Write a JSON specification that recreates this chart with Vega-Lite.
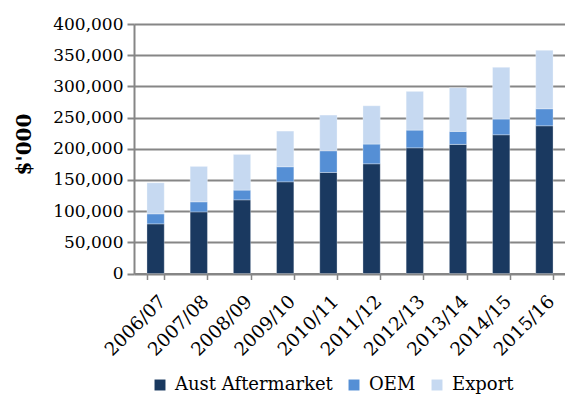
{
  "$schema": "https://vega.github.io/schema/vega-lite/v6.json",
  "autosize": {"type": "none"},
  "padding": {"left": 134, "top": 24, "right": 0, "bottom": 120},
  "width": 432,
  "height": 249.5,
  "background": "#ffffff",
  "data": {
    "values": [
      {"year": "2006/07", "segment": "Aust Aftermarket", "rank": 1, "value": 79600},
      {"year": "2006/07", "segment": "OEM", "rank": 2, "value": 16000},
      {"year": "2006/07", "segment": "Export", "rank": 3, "value": 49800},
      {"year": "2007/08", "segment": "Aust Aftermarket", "rank": 1, "value": 98800},
      {"year": "2007/08", "segment": "OEM", "rank": 2, "value": 16100},
      {"year": "2007/08", "segment": "Export", "rank": 3, "value": 56800},
      {"year": "2008/09", "segment": "Aust Aftermarket", "rank": 1, "value": 118100},
      {"year": "2008/09", "segment": "OEM", "rank": 2, "value": 15600},
      {"year": "2008/09", "segment": "Export", "rank": 3, "value": 57200},
      {"year": "2009/10", "segment": "Aust Aftermarket", "rank": 1, "value": 147000},
      {"year": "2009/10", "segment": "OEM", "rank": 2, "value": 24100},
      {"year": "2009/10", "segment": "Export", "rank": 3, "value": 57200},
      {"year": "2010/11", "segment": "Aust Aftermarket", "rank": 1, "value": 162000},
      {"year": "2010/11", "segment": "OEM", "rank": 2, "value": 34700},
      {"year": "2010/11", "segment": "Export", "rank": 3, "value": 57300},
      {"year": "2011/12", "segment": "Aust Aftermarket", "rank": 1, "value": 175900},
      {"year": "2011/12", "segment": "OEM", "rank": 2, "value": 31600},
      {"year": "2011/12", "segment": "Export", "rank": 3, "value": 61400},
      {"year": "2012/13", "segment": "Aust Aftermarket", "rank": 1, "value": 201500},
      {"year": "2012/13", "segment": "OEM", "rank": 2, "value": 28400},
      {"year": "2012/13", "segment": "Export", "rank": 3, "value": 62100},
      {"year": "2013/14", "segment": "Aust Aftermarket", "rank": 1, "value": 207000},
      {"year": "2013/14", "segment": "OEM", "rank": 2, "value": 20800},
      {"year": "2013/14", "segment": "Export", "rank": 3, "value": 70000},
      {"year": "2014/15", "segment": "Aust Aftermarket", "rank": 1, "value": 222400},
      {"year": "2014/15", "segment": "OEM", "rank": 2, "value": 25200},
      {"year": "2014/15", "segment": "Export", "rank": 3, "value": 82900},
      {"year": "2015/16", "segment": "Aust Aftermarket", "rank": 1, "value": 236800},
      {"year": "2015/16", "segment": "OEM", "rank": 2, "value": 27300},
      {"year": "2015/16", "segment": "Export", "rank": 3, "value": 93700}
    ]
  },
  "mark": {"type": "bar", "stroke": "#ffffff", "strokeWidth": 0.5, "strokeOpacity": 0.6},
  "encoding": {
    "x": {
      "field": "year",
      "type": "nominal",
      "sort": null,
      "title": null,
      "scale": {"paddingInner": 0.6, "paddingOuter": 0.3},
      "axis": {
        "labelAngle": -45,
        "labelFont": "DejaVu Serif",
        "labelFontSize": 18.5,
        "labelColor": "#000000",
        "labelPadding": 12,
        "domainColor": "#868686",
        "domainWidth": 2,
        "tickColor": "#868686",
        "tickWidth": 1.5,
        "tickSize": 6,
        "tickBand": "extent",
        "grid": false
      }
    },
    "y": {
      "field": "value",
      "type": "quantitative",
      "stack": "zero",
      "scale": {"domain": [0, 400000], "nice": false},
      "title": "$'000",
      "axis": {
        "values": [0, 50000, 100000, 150000, 200000, 250000, 300000, 350000, 400000],
        "format": ",d",
        "labelFont": "DejaVu Serif",
        "labelFontSize": 17,
        "labelColor": "#000000",
        "labelPadding": 4,
        "titleFont": "DejaVu Serif",
        "titleFontSize": 20,
        "titleFontWeight": "bold",
        "titleColor": "#000000",
        "titlePadding": 18,
        "titleY": 120,
        "domainColor": "#868686",
        "domainWidth": 2,
        "tickColor": "#868686",
        "tickWidth": 2,
        "tickSize": 7,
        "grid": true,
        "gridColor": "#868686",
        "gridWidth": 2
      }
    },
    "color": {
      "field": "segment",
      "type": "nominal",
      "sort": ["Aust Aftermarket", "OEM", "Export"],
      "scale": {
        "domain": ["Aust Aftermarket", "OEM", "Export"],
        "range": ["#1a3960", "#558fd5", "#c6d9f1"]
      },
      "legend": {
        "orient": "none",
        "legendX": 17,
        "legendY": 352,
        "direction": "horizontal",
        "title": null,
        "symbolType": "square",
        "symbolSize": 120,
        "symbolStrokeWidth": 0,
        "labelFont": "DejaVu Serif",
        "labelFontSize": 18,
        "labelColor": "#000000",
        "labelOffset": 6,
        "columnPadding": 12
      }
    },
    "order": {"field": "rank", "type": "quantitative"}
  }
}
